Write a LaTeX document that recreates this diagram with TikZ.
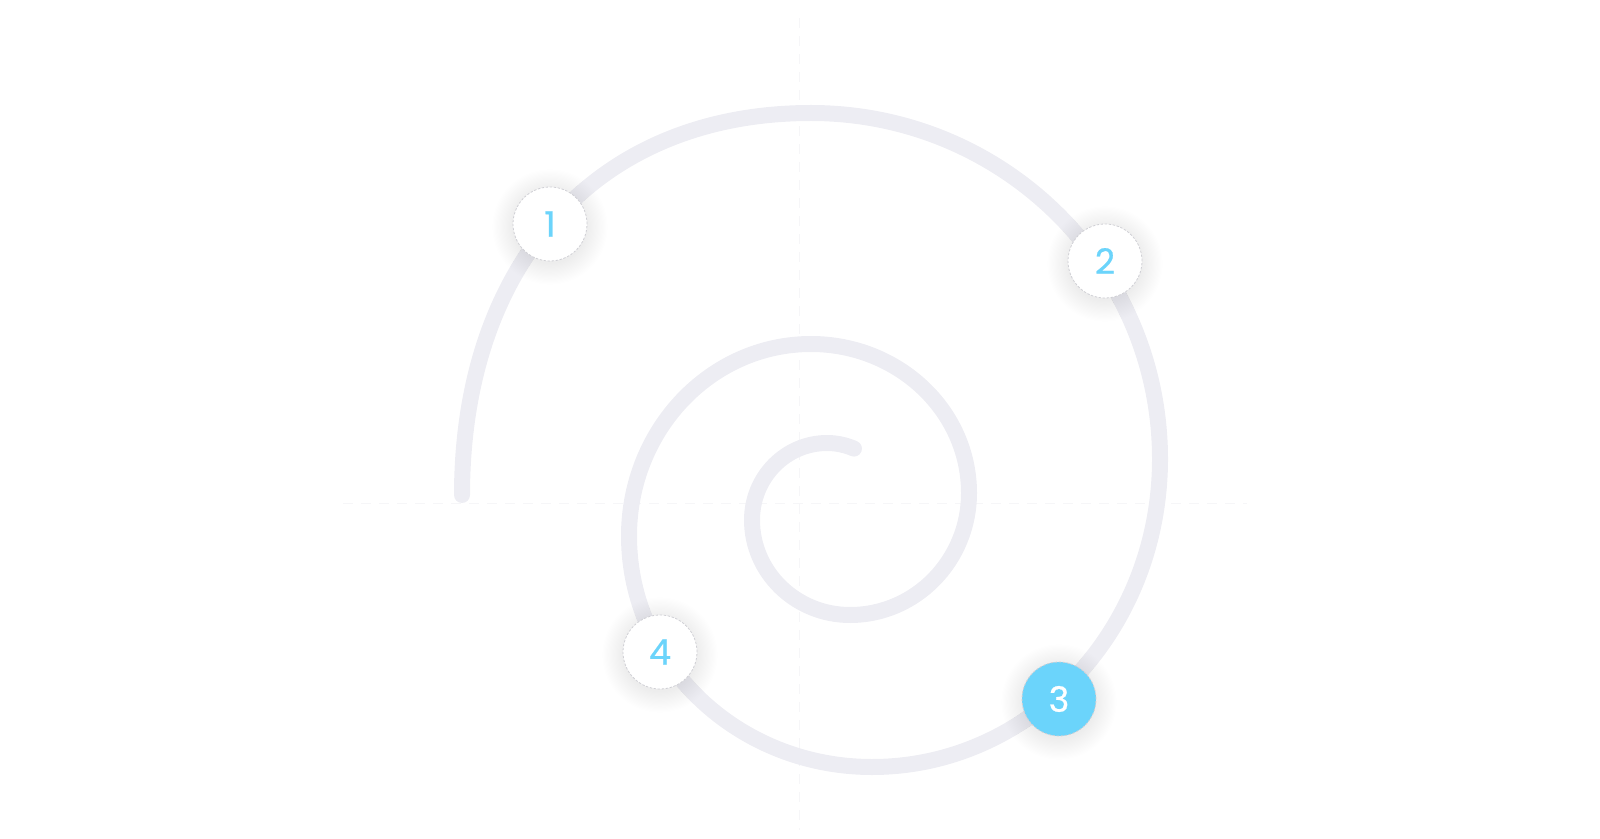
\documentclass[tikz,border=0pt]{standalone}
\usepackage{fontspec}
\setmainfont{Poppins}
\newfontfamily\numfont{Poppins}[FakeBold=0.6]
\usepackage{xcolor}
\usepackage{tikz}
\usetikzlibrary{arrows.meta,positioning}
\definecolor{OTrack}{HTML}{EDEDF3}
\definecolor{OSky}{HTML}{6BD4FB}
\definecolor{OGuide}{HTML}{F6F6F8}
\definecolor{ORing}{HTML}{D0D0D5}

\begin{document}
\begin{tikzpicture}[
  x=0.5pt,y=-0.5pt,
  guide/.style={draw=OGuide,line width=0.5pt,dash pattern=on 5pt off 4pt},
  track/.style={draw=OTrack,line width=8pt,line cap=round},
  stepcircle/.style={circle,fill=white,draw=ORing,line width=0.4pt,
    dash pattern=on 1.2pt off 0.8pt,minimum size=37pt,inner sep=0pt,
    text=OSky,font=\numfont\fontsize{17.5}{20}\selectfont},
  current/.style={stepcircle,fill=OSky,text=white}
]
  \useasboundingbox (0,0) rectangle (1600,839);
  % faint guide lines
  \coordinate (gl) at (343,503);
  \coordinate (gr) at (1247,503);
  \coordinate (gt) at (799,18);
  \coordinate (gb) at (799,830);
  \draw[guide] (gl) -- (gr);
  \draw[guide] (gt) -- (gb);
  % spiral track
  \draw[track] (462,495) .. controls (462,266) and (595,113) .. (811,113)
    arc[start angle=270,end angle=360,x radius=349,y radius=346]
    arc[start angle=0,end angle=90,x radius=288,y radius=308]
    arc[start angle=90,end angle=180,x radius=243,y radius=231]
    arc[start angle=180,end angle=270,x radius=182,y radius=192]
    arc[start angle=270,end angle=360,x radius=158,y radius=149]
    arc[start angle=0,end angle=90,x radius=119,y radius=122]
    arc[start angle=90,end angle=180,x radius=98,y radius=95]
    arc[start angle=180,end angle=270,x radius=75,y radius=77]
    arc[start angle=270,end angle=292,x radius=72,y radius=77];
  % soft shadows
  \foreach \cx/\cy in {550/224,1105/261,1059/699,660/652}
    \foreach \i in {1,...,18}
      \fill[black,opacity=0.005] (\cx,\cy+3) circle[radius=36+1.2*\i];
  % steps
  \node[stepcircle] (s1) at (550,224) {1};
  \node[stepcircle] (s2) at (1105,261) {2};
  \node[current] (s3) at (1059,699) {3};
  \node[stepcircle] (s4) at (660,652) {4};
\end{tikzpicture}
\end{document}
